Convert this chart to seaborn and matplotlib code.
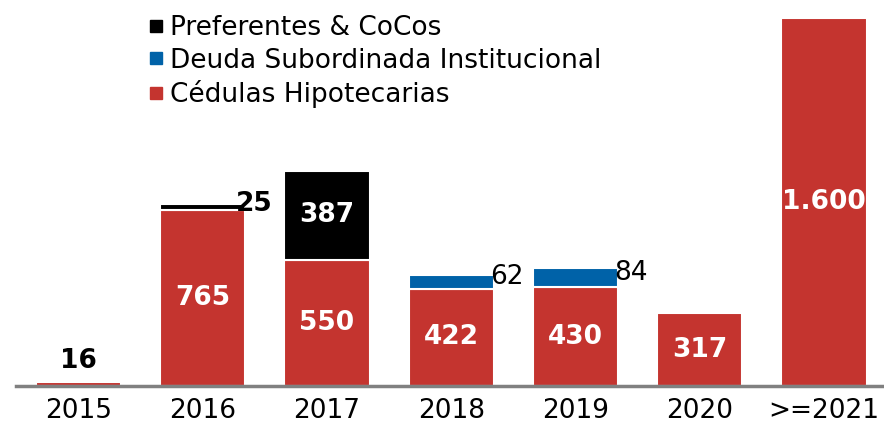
import numpy as np
import pandas as pd
import matplotlib
matplotlib.use("Agg")
import matplotlib.pyplot as plt
from matplotlib.lines import Line2D
import seaborn as sns

# ── Data ──────────────────────────────────────────────────────────────────────
YEARS = ["2015", "2016", "2017", "2018", "2019", "2020", ">=2021"]
CEDULAS = [16, 765, 550, 422, 430, 317, 1600]
DEUDA_SUB = [0, 0, 0, 62, 84, 0, 0]
PREFERENTES = [0, 25, 387, 0, 0, 0, 0]

RED = "#C4342F"
BLUE = "#0062A8"
BLACK = "#000000"
FS = 19

sns.set_theme(style="white")
plt.rcParams["font.family"] = ["DejaVu Sans"]
plt.rcParams["text.color"] = "black"

W, H = 884, 425
fig = plt.figure(figsize=(W / 100, H / 100), dpi=100)
# axis line runs from x=16px to the right edge, baseline at y=386px
ax = fig.add_axes([16 / W, (H - 386) / H, 1 - 16 / W, 376 / H])


def stacked(values, bottoms, color):
    df = pd.DataFrame({"year": YEARS, "val": values, "bottom": bottoms})
    df = df[df["val"] > 0]
    sns.barplot(data=df, x="year", y="val", order=YEARS, color=color,
                bottom=df["bottom"].to_numpy(), width=0.685, errorbar=None,
                edgecolor="white", linewidth=1.5, saturation=1, ax=ax)
    return df


ced = np.array(CEDULAS)
deu = np.array(DEUDA_SUB)
pre = np.array(PREFERENTES)

stacked(ced, np.zeros_like(ced), RED)
stacked(deu, ced, BLUE)
stacked(pre, ced + deu, BLACK)

# ── Labels ────────────────────────────────────────────────────────────────────
def fmt(v):
    return f"{v:,}".replace(",", ".")

for i, v in enumerate(ced):
    if v < 100:
        ax.annotate(fmt(v), (i, v), xytext=(0, 6), textcoords="offset points",
                    ha="center", va="bottom", fontsize=FS, fontweight="bold",
                    color="black")
    else:
        ax.text(i, v / 2, fmt(v), ha="center", va="center", fontsize=FS,
                fontweight="bold", color="white")

for i, v in enumerate(pre):
    if v == 0:
        continue
    base = ced[i] + deu[i]
    if v > 100:
        ax.text(i, base + v / 2, fmt(v), ha="center", va="center",
                fontsize=FS, fontweight="bold", color="white")
    else:
        ax.text(i + 0.27, base + v, fmt(v), ha="left", va="center",
                fontsize=FS, fontweight="bold", color="black")

for i, v in enumerate(deu):
    if v == 0:
        continue
    ax.text(i + 0.31, ced[i] + v / 2 + 20, fmt(v), ha="left", va="center",
            fontsize=FS, color="black")

# ── Axes styling ──────────────────────────────────────────────────────────────
ax.set_xlim(-0.503, 6.483)
ax.set_ylim(0, 1635)
ax.set_xlabel("")
ax.set_ylabel("")
ax.set_yticks([])
for s in ["left", "right", "top"]:
    ax.spines[s].set_visible(False)
ax.spines["bottom"].set_color("#808080")
ax.spines["bottom"].set_linewidth(2.5)
ax.tick_params(axis="x", length=0, pad=9, labelsize=FS, colors="black")

handles = [
    Line2D([], [], marker="s", linestyle="none", color=BLACK, markersize=8.6),
    Line2D([], [], marker="s", linestyle="none", color=BLUE, markersize=8.6),
    Line2D([], [], marker="s", linestyle="none", color=RED, markersize=8.6),
]
labels = ["Preferentes & CoCos", "Deuda Subordinada Institucional",
          "Cédulas Hipotecarias"]
fig.legend(handles, labels, loc="upper left",
           bbox_to_anchor=(148 / W, 1 - 15 / H),
           frameon=False, fontsize=FS, handlelength=0.6, handletextpad=0.23,
           labelspacing=0.25, borderaxespad=0, borderpad=0,
           labelcolor="black")

fig.savefig("out.png", dpi=100)
